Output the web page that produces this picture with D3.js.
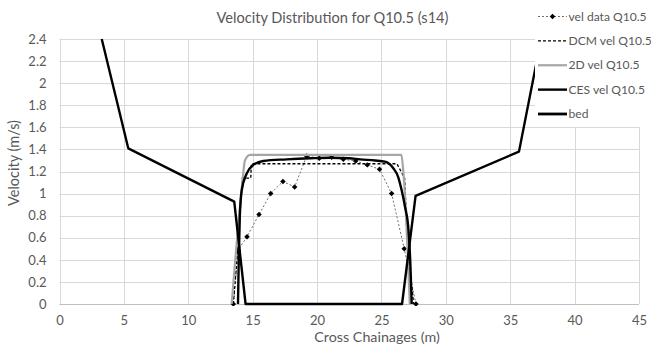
<!DOCTYPE html>
<html>
<head>
<meta charset="utf-8">
<script src="https://cdn.jsdelivr.net/npm/d3@7"></script>
<style>
  html, body { margin: 0; padding: 0; background: #fff; }
  svg { display: block; font-family: Lato, Carlito, Calibri, "Liberation Sans", sans-serif; }
</style>
</head>
<body>
<svg id="chart" width="651" height="347"></svg>
<script>
// ---------- data ----------
const xTicks = [0, 5, 10, 15, 20, 25, 30, 35, 40, 45];
const yTicks = [0, 0.2, 0.4, 0.6, 0.8, 1, 1.2, 1.4, 1.6, 1.8, 2, 2.2, 2.4];

const velDataX = [13.5, 13.88, 14.56, 15.49, 16.4, 17.35, 18.26, 19.19, 20.17, 21.13, 22.04, 23.0, 23.9, 24.85, 25.79, 26.77, 27.68];
const velDataV = [0, 0.49, 0.61, 0.81, 1.0, 1.11, 1.06, 1.34, 1.32, 1.33, 1.31, 1.295, 1.26, 1.22, 1.0, 0.5, 0];

const dcmX = [13.5, 13.85, 14.2, 14.85, 14.9, 26.2, 26.8, 27.05, 27.5];
const dcmV = [0, 0.5, 1.14, 1.14, 1.27, 1.27, 1.14, 0.5, 0];

const twoDX = [13.37, 14.2, 14.4, 14.8, 26.55, 26.7, 27.2];
const twoDV = [0, 1.1, 1.3, 1.35, 1.35, 1.2, 0];

const cesX = [13.86, 13.92, 14.0, 14.15, 14.53, 15.05, 15.82, 17.64, 19.5, 21.0, 22.5, 23.33, 24.5, 25.27, 25.92, 26.3, 26.57, 26.83, 27.08, 27.25, 27.35];
const cesV = [0, 0.4, 0.79, 1.03, 1.18, 1.26, 1.295, 1.31, 1.32, 1.325, 1.32, 1.31, 1.30, 1.29, 1.23, 1.15, 1.03, 0.88, 0.70, 0.35, 0];

const bedX = [3.28, 5.34, 13.57, 14.45, 26.6, 27.65, 35.68, 37.4];
const bedV = [2.4, 1.41, 0.927, 0, 0, 0.98, 1.38, 2.4];

const seriesNames = ["vel data Q10.5", "DCM vel Q10.5", "2D vel Q10.5", "CES vel Q10.5", "bed"];

// ---------- layout ----------
const svg = d3.select("#chart");
const W = 651, H = 347;
const plot = { left: 59.5, right: 639, top: 39, bottom: 304 };

const x = d3.scaleLinear().domain([0, 45]).range([plot.left, plot.right]);
const y = d3.scaleLinear().domain([0, 2.4]).range([plot.bottom, plot.top]);

svg.append("rect").attr("width", W).attr("height", H).attr("fill", "#fff");

// gridlines
const grid = svg.append("g");
grid.selectAll("line.h").data(yTicks).enter().append("line")
  .attr("x1", plot.left).attr("x2", plot.right)
  .attr("y1", d => Math.round(y(d)) + 0.5).attr("y2", d => Math.round(y(d)) + 0.5)
  .attr("stroke", "#d9d9d9").attr("stroke-width", 1);
grid.selectAll("line.v").data(xTicks).enter().append("line")
  .attr("y1", plot.top).attr("y2", plot.bottom)
  .attr("x1", d => Math.round(x(d)) + 0.5).attr("x2", d => Math.round(x(d)) + 0.5)
  .attr("stroke", "#d9d9d9").attr("stroke-width", 1);

// x axis line
svg.append("line")
  .attr("x1", plot.left).attr("x2", plot.right)
  .attr("y1", Math.round(y(0)) + 0.5).attr("y2", Math.round(y(0)) + 0.5)
  .attr("stroke", "#bfbfbf").attr("stroke-width", 1);

// axes labels via d3 axes
const xAxis = d3.axisBottom(x).tickValues(xTicks).tickSize(0).tickPadding(12).tickFormat(d3.format("d"));
const gx = svg.append("g").attr("transform", `translate(0,${plot.bottom})`).call(xAxis);
gx.select(".domain").remove();
gx.selectAll("text").attr("fill", "#595959").style("font-size", "13px").style("font-family", "Lato, Carlito, sans-serif");

const yAxis = d3.axisLeft(y).tickValues(yTicks).tickSize(0).tickPadding(13).tickFormat(d => d3.format("")(+d.toFixed(1)));
const gy = svg.append("g").attr("transform", `translate(${plot.left},0)`).call(yAxis);
gy.select(".domain").remove();
gy.selectAll("text").attr("fill", "#595959").style("font-size", "13px").style("font-family", "Lato, Carlito, sans-serif");

// axis titles
svg.append("text").attr("x", 377).attr("y", 342)
  .attr("text-anchor", "middle").attr("fill", "#595959").style("font-size", "14.3px")
  .text("Cross Chainages (m)");
svg.append("text").attr("transform", `translate(19,163) rotate(-90)`)
  .attr("text-anchor", "middle").attr("fill", "#595959").style("font-size", "14.5px")
  .text("Velocity (m/s)");

// title
svg.append("text").attr("x", 332.5).attr("y", 23)
  .attr("text-anchor", "middle").attr("fill", "#595959").style("font-size", "14.6px")
  .text("Velocity Distribution for Q10.5 (s14)");

// ---------- series ----------
svg.append("clipPath").attr("id", "clip").append("rect")
  .attr("x", plot.left).attr("y", plot.top - 2).attr("width", plot.right - plot.left).attr("height", plot.bottom - plot.top + 4);
const series = svg.append("g").attr("clip-path", "url(#clip)");

const lineGen = d3.line().x(d => x(d[0])).y(d => y(d[1]));
const zip = (a, b) => a.map((v, i) => [v, b[i]]);

const velPts = zip(velDataX, velDataV);
series.append("path").datum(velPts).attr("d", lineGen)
  .attr("fill", "none").attr("stroke", "#6e6e6e").attr("stroke-width", 1).attr("stroke-dasharray", "2,2");
const diamond = d3.symbol().type(d3.symbolSquare).size(15);
series.selectAll("path.m").data(velPts).enter().append("path")
  .attr("d", diamond).attr("transform", d => `translate(${x(d[0])},${y(d[1])}) rotate(45)`).attr("fill", "#000");

series.append("path").datum(zip(dcmX, dcmV)).attr("d", lineGen)
  .attr("fill", "none").attr("stroke", "#000").attr("stroke-width", 1.3).attr("stroke-dasharray", "3,2");

series.append("path").datum(zip(twoDX, twoDV)).attr("d", d3.line().x(d => x(d[0])).y(d => y(d[1])).curve(d3.curveMonotoneX))
  .attr("fill", "none").attr("stroke", "#a6a6a6").attr("stroke-width", 2.2);

series.append("path").datum(zip(cesX, cesV)).attr("d", d3.line().x(d => x(d[0])).y(d => y(d[1])).curve(d3.curveMonotoneX))
  .attr("fill", "none").attr("stroke", "#000").attr("stroke-width", 2.4);

series.append("path").datum(zip(bedX, bedV)).attr("d", lineGen)
  .attr("fill", "none").attr("stroke", "#000").attr("stroke-width", 2.4).attr("stroke-linejoin", "round");

// ---------- legend ----------
const lg = svg.append("g");
lg.append("rect").attr("x", 535).attr("y", 0).attr("width", 116).attr("height", 127).attr("fill", "#fff");
const legY = d3.scaleLinear().domain([0, 4]).range([16.5, 114]);
const styles = [
  { stroke: "#6e6e6e", w: 1, dash: "2,2", marker: true },
  { stroke: "#000", w: 1.3, dash: "3,2" },
  { stroke: "#a6a6a6", w: 2.2, dash: null },
  { stroke: "#000", w: 2.4, dash: null },
  { stroke: "#000", w: 2.8, dash: null }
];
seriesNames.forEach((name, i) => {
  const yy = legY(i), st = styles[i];
  lg.append("line").attr("x1", 538).attr("x2", 567).attr("y1", yy).attr("y2", yy)
    .attr("stroke", st.stroke).attr("stroke-width", st.w).attr("stroke-dasharray", st.dash);
  if (st.marker) lg.append("path").attr("d", diamond).attr("transform", `translate(552.5,${yy}) rotate(45)`).attr("fill", "#000");
  lg.append("text").attr("x", 568.5).attr("y", yy).attr("dy", "0.35em")
    .attr("fill", "#595959").style("font-size", "12.1px").text(name);
});
</script>
</body>
</html>
